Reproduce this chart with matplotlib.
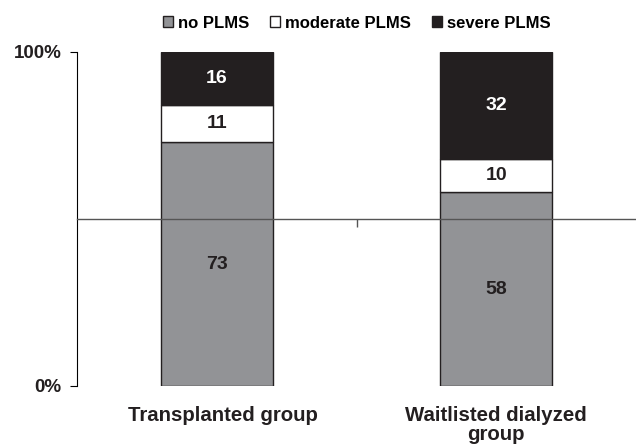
import matplotlib
matplotlib.use('Agg')
import matplotlib.pyplot as plt
import numpy as np

plt.rcParams['font.family'] = ['Liberation Sans', 'DejaVu Sans']
plt.rcParams['font.weight'] = 'bold'

# data (percent of patients)
groups = ['Transplanted group', 'Waitlisted dialyzed\ngroup']
no_plms = [73, 58]
moderate_plms = [11, 10]
severe_plms = [16, 32]
series_names = ['no PLMS', 'moderate PLMS', 'severe PLMS']
ytick_labels = ['0%', '100%']

gray = '#929396'
dark = '#231f20'

fig = plt.figure(figsize=(6.36, 4.46), dpi=100)
ax = fig.add_axes([77 / 636, 60 / 446, 1 - 77 / 636, 334 / 446])

x = np.arange(len(groups)) + 0.5
w = 0.4
bottoms = np.zeros(len(groups))
stacks = [no_plms, moderate_plms, severe_plms]
fills = [gray, 'white', dark]
text_cols = [dark, dark, 'white']
for vals, fc, tc, name in zip(stacks, fills, text_cols, series_names):
    vals = np.array(vals)
    ax.bar(x, vals, w, bottom=bottoms, color=fc, edgecolor=dark,
           linewidth=1.0, label=name, zorder=2)
    for xi, b, v in zip(x, bottoms, vals):
        ax.text(xi, b + v / 2, str(v), ha='center', va='center',
                color=tc, fontsize=14, fontweight='bold', zorder=3)
    bottoms = bottoms + vals

ax.set_xlim(0, 2)
ax.set_ylim(0, 100)
ax.set_yticks([0, 100])
ax.set_yticklabels(ytick_labels, fontsize=13.5, fontweight='bold', color=dark)
ax.tick_params(axis='y', length=5, width=0.8, pad=6)

# category boundary tick on the axis drawn at 50%
ax.spines['bottom'].set_position(('data', 50))
ax.spines['bottom'].set_color('#555555')
ax.spines['bottom'].set_linewidth(1.0)
ax.spines['bottom'].set_zorder(3)
ax.spines['top'].set_visible(False)
ax.spines['right'].set_visible(False)
ax.spines['left'].set_linewidth(0.8)
ax.set_xticks([1])
ax.set_xticklabels([''])
ax.tick_params(axis='x', length=6, width=1.0, color='#555555')

label_shift = [0.022, 0.0]
for xi, dx, g in zip(x, label_shift, groups):
    ax.text(xi + dx, -6, g, ha='center', va='top', fontsize=14.7,
            fontweight='bold', color=dark, linespacing=0.98,
            transform=ax.transData, clip_on=False)

ax.legend(loc='center', bbox_to_anchor=(357 / 636, 1 - 23 / 446),
          bbox_transform=fig.transFigure, ncol=3, frameon=False,
          handlelength=0.6, handleheight=0.6,
          handletextpad=0.3, columnspacing=1.25,
          prop={'weight': 'bold', 'size': 12})

fig.savefig('out.png', dpi=100)
